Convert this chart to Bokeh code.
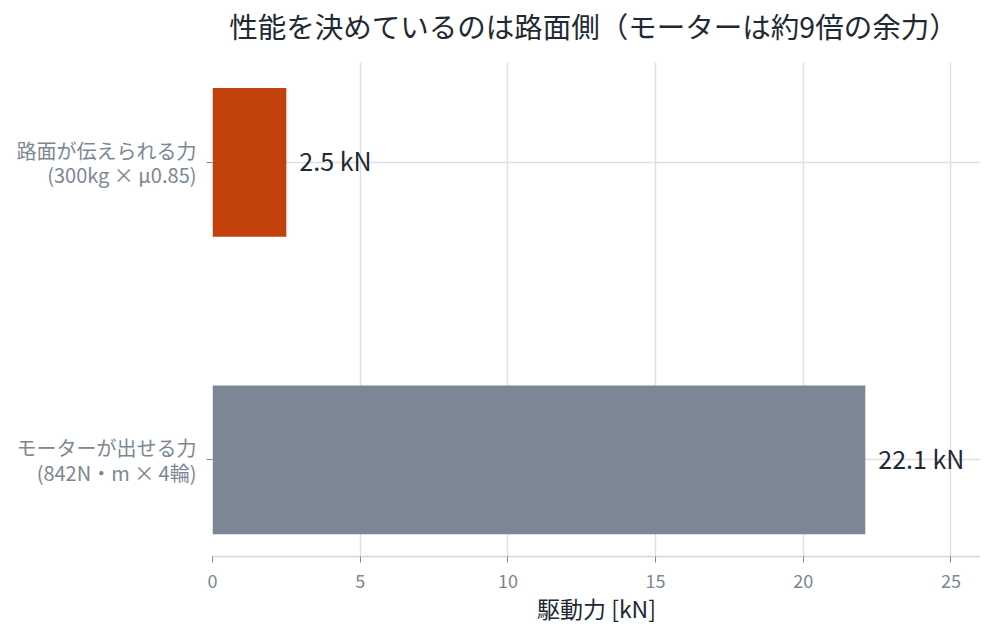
from bokeh.plotting import figure
from bokeh.models import Range1d, FixedTicker, ColumnDataSource, Label
from bokeh.core.properties import value
from bokeh.embed import file_html
from bokeh.resources import INLINE

# ---- data ----
categories = ["モーターが出せる力\n(842N・m × 4輪)", "路面が伝えられる力\n(300kg × μ0.85)"]
forces_kn = [22.1, 2.5]
value_labels = ["22.1 kN", "2.5 kN"]
bar_colors = ["#7B8794", "#C2410C"]
x_ticks = [0, 5, 10, 15, 20, 25]
title_text = "性能を決めているのは路面側（モーターは約9倍の余力）"
x_label_text = "駆動力 [kN]"

FONT = "Noto Sans CJK JP"
DARK = "#1F2933"
GREY = "#7B8794"

positions = list(range(len(categories)))
src = ColumnDataSource(dict(y=positions, right=forces_kn, color=bar_colors, label=value_labels))

p = figure(width=980, height=627, output_backend="svg", toolbar_location=None,
           x_range=Range1d(0, 26), y_range=Range1d(-0.325, 1.336),
           min_border_left=212, min_border_right=0, min_border_bottom=70, min_border_top=62,
           title=None)
p.outline_line_color = None
p.background_fill_color = "white"
p.border_fill_color = "white"

p.hbar(y="y", right="right", left=0, height=0.5, color="color", line_color=None, source=src)
p.text(x="right", y="y", text="label", source=src, x_offset=13, y_offset=-2,
       text_align="left", text_baseline="middle", text_font=value(FONT),
       text_font_size="25px", text_color=DARK)

# title as a label in the top side panel
p.add_layout(Label(x=381, y=37, x_units="screen", y_units="screen", text=title_text,
                   text_align="center", text_baseline="middle", text_font=FONT,
                   text_font_size="28.5px", text_color=DARK), "above")

# x axis
xa = p.xaxis[0]
xa.ticker = FixedTicker(ticks=x_ticks)
xa.axis_label = x_label_text
xa.axis_label_text_font = FONT
xa.axis_label_text_font_size = "23px"
xa.axis_label_text_font_style = "normal"
xa.axis_label_text_color = DARK
xa.axis_label_standoff = 0
xa.major_label_text_font = FONT
xa.major_label_text_font_size = "18px"
xa.major_label_text_color = GREY
xa.axis_line_color = "#D3D7DC"
xa.axis_line_width = 1.5
xa.major_tick_line_color = GREY
xa.major_tick_in = 0
xa.major_tick_out = 6
xa.minor_tick_line_color = None
xa.major_label_standoff = 11

# y axis
ya = p.yaxis[0]
ya.ticker = FixedTicker(ticks=positions)
ya.major_label_overrides = {i: c for i, c in zip(positions, categories)}
ya.major_label_text_font = FONT
ya.major_label_text_font_size = "20px"
ya.major_label_text_line_height = 0.85
ya.major_label_text_color = GREY
ya.axis_line_color = None
ya.major_tick_line_color = GREY
ya.major_tick_in = 0
ya.major_tick_out = 6
ya.minor_tick_line_color = None
ya.major_label_standoff = 10

p.xgrid.grid_line_color = "#DDE1E6"
p.xgrid.grid_line_width = 1.5
p.ygrid.grid_line_color = "#DDE1E6"
p.ygrid.grid_line_width = 1.5
p.ygrid.ticker = FixedTicker(ticks=positions)

open("out.html", "w").write(file_html(p, INLINE))
